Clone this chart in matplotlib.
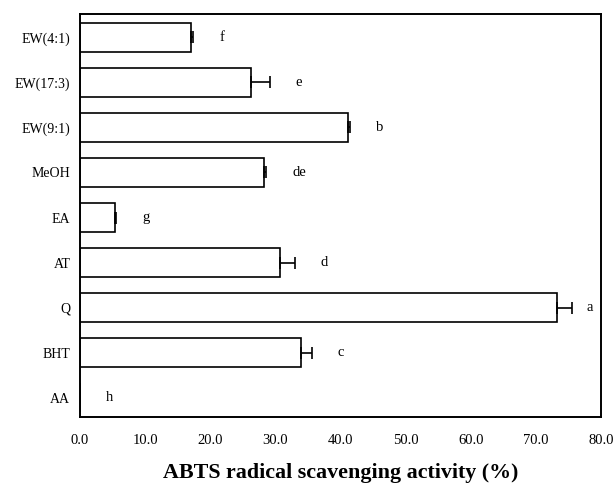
import matplotlib
matplotlib.use("Agg")
import matplotlib.pyplot as plt
import numpy as np

categories = ["EW(4:1)", "EW(17:3)", "EW(9:1)", "MeOH", "EA", "AT", "Q", "BHT", "AA"]
activity = [17.0, 26.3, 41.1, 28.2, 5.3, 30.7, 73.2, 33.9, 0.0]
errors = [0.4, 2.8, 0.4, 0.4, 0.3, 2.3, 2.3, 1.7, 0.0]
letters = ["f", "e", "b", "de", "g", "d", "a", "c", "h"]
xticks = [0, 10, 20, 30, 40, 50, 60, 70, 80]

plt.rcParams["font.family"] = ["Liberation Serif", "DejaVu Serif"]

fig = plt.figure(figsize=(6.13, 4.84), dpi=100)
ax = fig.add_axes([80 / 613, 1 - 417 / 484, 521 / 613, 403 / 484])

y = np.arange(len(categories))
ax.barh(y, activity, height=0.65, color="white", edgecolor="black", linewidth=1.2)
ax.errorbar(activity, y, xerr=[np.zeros(len(errors)), errors], fmt="none",
            ecolor="black", elinewidth=1.2, capsize=4, capthick=1.2)

for yi, v, e, lab in zip(y, activity, errors, letters):
    off = 2.3 if v + e > 70 else 4.0
    ax.text(v + e + off, yi, lab, ha="left", va="center", fontsize=10.5)

ax.set_xlim(0, 80)
ax.set_ylim(8.43, -0.52)
ax.set_yticks(y)
ax.set_yticklabels(categories, fontsize=10)
ax.set_xticks(xticks)
ax.set_xticklabels([f"{t:.1f}" for t in xticks], fontsize=10.5)
ax.tick_params(axis="both", length=0)
ax.tick_params(axis="x", pad=12)
ax.tick_params(axis="y", pad=7)
for s in ax.spines.values():
    s.set_linewidth(1.4)

ax.set_xlabel("ABTS radical scavenging activity (%)", fontsize=15.8,
              fontweight="bold", labelpad=12)

fig.savefig("out.png", dpi=100)
